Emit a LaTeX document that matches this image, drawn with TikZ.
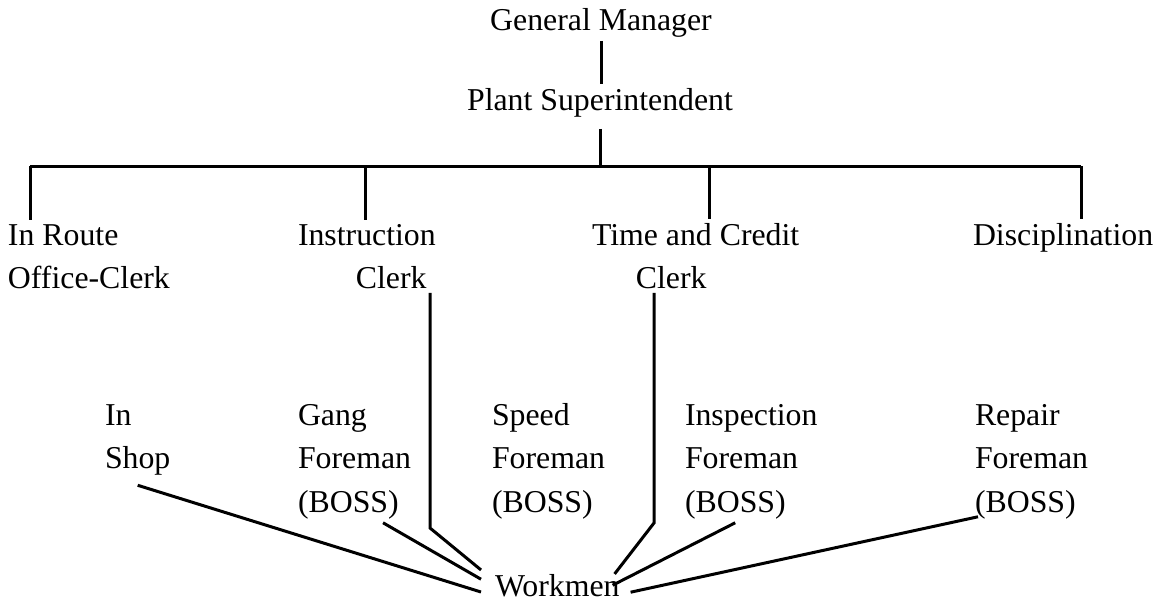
\documentclass[tikz,border=0pt]{standalone}
\usepackage{fontspec}
\setmainfont{Liberation Serif}
\usepackage{tikz}

\begin{document}
\begin{tikzpicture}[x=0.5pt, y=-0.5pt, line width=1.5pt, font=\fontsize{15.9}{21.75}\selectfont]
\tikzstyle{every node}=[inner sep=2pt, outer sep=0pt]
% base anchor = baseline of the last line
\tikzstyle{post}=[anchor=base west, align=left]
\useasboundingbox (0,0) rectangle (1158,600);

\node[anchor=base]  (gm)     at (601,30)     {General Manager};
\node[anchor=base]  (ps)     at (600,110)    {Plant Superintendent};
\node[post]         (route)  at (4,288.5)    {In Route\\Office-Clerk};
\node[post]         (instr)  at (294,288.5)  {Instruction\\\hspace*{1.82em}Clerk};
\node[post]         (time)   at (588,288.5)  {Time and Credit\\\hspace*{1.38em}Clerk};
\node[post]         (disc)   at (969,245)    {Disciplination};
\node[post]         (shop)   at (101,468.5)  {In\\Shop};
\node[post]         (gang)   at (294,512)    {Gang\\Foreman\\(BOSS)};
\node[post]         (speed)  at (488,512)    {Speed\\Foreman\\(BOSS)};
\node[post]         (insp)   at (681,512)    {Inspection\\Foreman\\(BOSS)};
\node[post]         (repair) at (971,512)    {Repair\\Foreman\\(BOSS)};
\node[post, inner xsep=7pt] (wk) at (481,596) {Workmen};

\coordinate (bar) at (600,166);
\coordinate (j1)  at (30,166);
\coordinate (j2)  at (365,166);
\coordinate (j3)  at (709,166);
\coordinate (j4)  at (1081,166);
\coordinate (ic)  at (430,528);
\coordinate (tc)  at (654,523);

% top of the chart
\draw (gm.south) -- (gm.south |- ps.north);
\draw[shorten <=4pt] (ps.south) -- (bar);
\draw (j1) -- (j4);
\draw (j1) -- (j1 |- route.north);
\draw (j2) -- (j2 |- instr.north);
\draw (j3) -- (j3 |- time.north);
\draw (j4) -- (j4 |- disc.north);

% clerks and foremen to the workmen
\draw (ic |- instr.south) -- (ic) -- (wk.north west);
\draw (tc |- time.south) -- (tc) -- ([xshift=-9.5pt,yshift=-2pt]wk.north east);
\draw ([yshift=-3pt]shop.south) -- ([yshift=2pt]wk.base west);
\draw ([xshift=-16pt]gang.south east) -- ([yshift=3pt]wk.west);
\draw ([xshift=-8pt]insp.south) -- ([xshift=-10.5pt]wk.east);
\draw ([xshift=3.5pt,yshift=3pt]repair.south west) -- ([xshift=-1.5pt,yshift=-3.5pt]wk.east);
\end{tikzpicture}
\end{document}
